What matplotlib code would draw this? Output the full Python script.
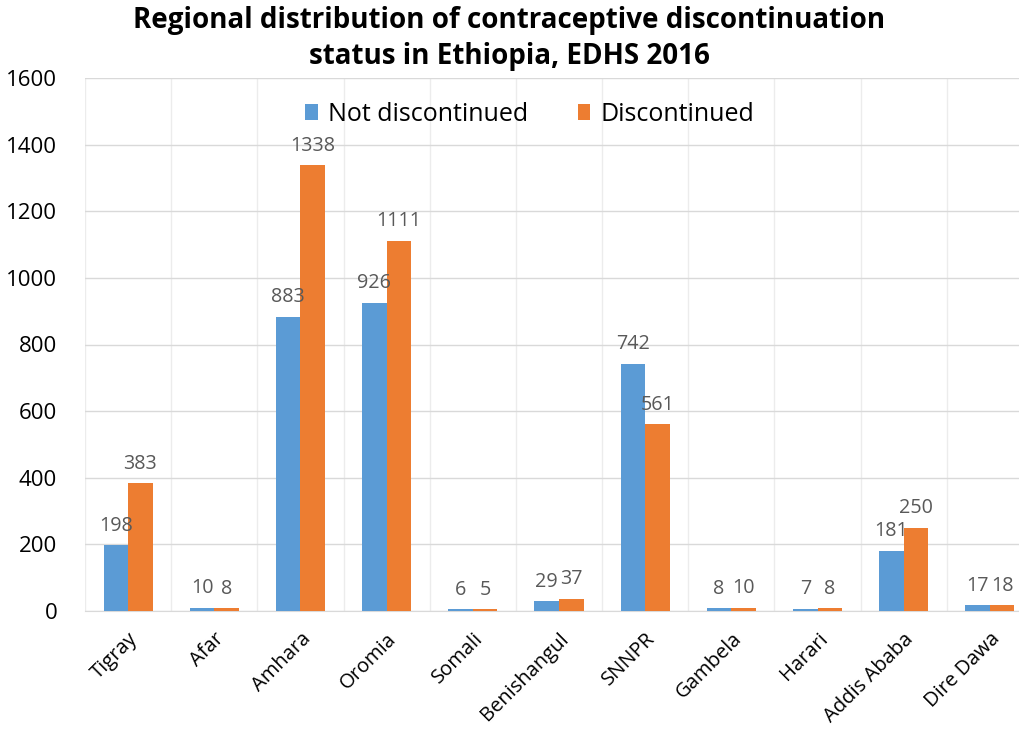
import matplotlib.pyplot as plt
import numpy as np

regions = ['Tigray', 'Afar', 'Amhara', 'Oromia', 'Somali', 'Benishangul',
           'SNNPR', 'Gambela', 'Harari', 'Addis Ababa', 'Dire Dawa']
not_discontinued = [198, 10, 883, 926, 6, 29, 742, 8, 7, 181, 17]
discontinued = [383, 8, 1338, 1111, 5, 37, 561, 10, 8, 250, 18]
yticks = [0, 200, 400, 600, 800, 1000, 1200, 1400, 1600]

blue = '#5B9BD5'
orange = '#ED7D31'

fig = plt.figure(figsize=(10.19, 7.29), dpi=100)
fig.patch.set_facecolor('white')
# chart is cut on the right in the reference, so the axes run past the edge
ax = fig.add_axes([85 / 1019, 118 / 729, 948 / 1019, 533 / 729])

x = np.arange(len(regions))
w = 0.285
b1 = ax.bar(x - w / 2, not_discontinued, w, color=blue, label='Not discontinued', zorder=3)
b2 = ax.bar(x + w / 2, discontinued, w, color=orange, label='Discontinued', zorder=3)

for bars in (b1, b2):
    for rect in bars:
        h = rect.get_height()
        ax.annotate(f'{h:g}', (rect.get_x() + rect.get_width() / 2, h),
                    xytext=(0, 14), textcoords='offset points',
                    ha='center', va='center', fontsize=14.2, color='#595959',
                    family='Open Sans')

ax.set_xlim(-0.5, len(regions) - 0.5)
ax.set_ylim(0, 1600)
ax.set_yticks(yticks)
ax.set_yticklabels([str(t) for t in yticks], fontsize=16, family='Open Sans')
ax.set_xticks(x)
ax.set_xticklabels(regions, rotation=45, ha='right', rotation_mode='anchor',
                   fontsize=14.5, family='Open Sans')
ax.set_xticks(np.arange(-0.5, len(regions), 0.5), minor=True)
ax.tick_params(axis='both', which='both', length=0)
ax.tick_params(axis='x', pad=13)
ax.tick_params(axis='y', pad=20)

ax.grid(True, axis='y', which='major', color='#d9d9d9', linewidth=1, zorder=0)
ax.grid(True, axis='x', which='minor', color='#ececec', linewidth=1, zorder=0)
ax.grid(False, axis='x', which='major')
for side in ('left', 'right', 'top'):
    ax.spines[side].set_visible(False)
ax.spines['bottom'].set_color('#d9d9d9')

ax.legend(loc='center', bbox_to_anchor=(0.469, 0.932), ncol=2, frameon=False,
          prop={'family': 'Open Sans', 'size': 18}, handlelength=0.5,
          handleheight=0.6, handletextpad=0.4, columnspacing=2.0)

fig.text(0.5, 1 - 6 / 729, 'Regional distribution of contraceptive discontinuation\n'
         'status in Ethiopia, EDHS 2016', ha='center', va='top',
         fontsize=20, fontweight='bold', family='Open Sans', linespacing=1.3)

fig.savefig('out.png', dpi=100, facecolor='white')
